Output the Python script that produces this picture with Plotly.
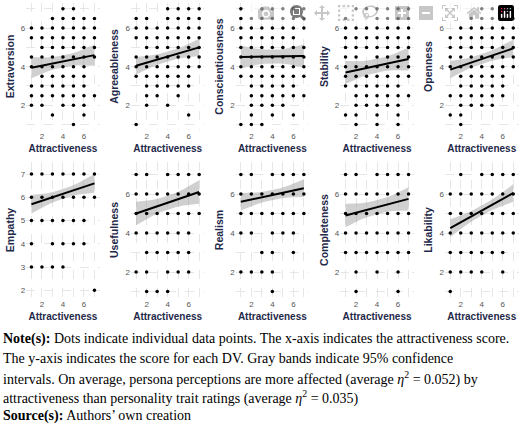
import plotly.graph_objects as go

names = ["Extraversion", "Agreeableness", "Conscientiousness", "Stability", "Openness",
         "Empathy", "Usefulness", "Realism", "Completeness", "Likability"]

# Observed points: y value -> list of attractiveness x values
extraversion = {7: [4, 5], 6.5: [3, 4, 5, 6, 7], 6: [1, 2, 3, 4, 5, 6, 7], 5.5: [1, 2, 3, 4, 5, 6, 7],
                5: [2, 3, 4, 5, 6, 7], 4.5: [1, 2, 3, 4, 5, 6, 7], 4: [1, 2, 3, 4, 5, 6],
                3.5: [2, 3, 4, 5, 6], 3: [1, 2, 3, 4, 5, 6], 2.5: [1, 2, 3, 4, 5, 6, 7],
                2: [1, 2, 4, 5, 6], 1.5: [3, 6], 1: [5]}
agreeableness = {7: [4, 5, 6, 7], 6.5: [1, 2, 4, 5, 6, 7], 6: [1, 2, 3, 4, 5, 6, 7], 5.5: [1, 2, 3, 4, 5, 6, 7],
                 5: [2, 3, 4, 5, 6, 7], 4.5: [1, 2, 3, 4, 5, 6, 7], 4: [1, 2, 3, 4, 5, 6, 7],
                 3.5: [1, 2, 3, 4, 5, 6], 3: [2, 3, 4, 5, 6], 2.5: [2, 3, 5], 2: [2, 4], 1.5: [6], 1: [1]}
conscientiousness = {7: [1, 3, 4, 5, 6, 7], 6.5: [1, 2, 3, 4, 5, 6, 7], 6: [1, 2, 3, 4, 5, 6, 7],
                     5.5: [1, 2, 3, 4, 5, 6], 5: [1, 2, 3, 4, 5, 6, 7], 4.5: [1, 2, 3, 4, 5, 6, 7],
                     4: [1, 2, 3, 4, 5, 6, 7], 3.5: [1, 2, 3, 4, 5, 6, 7], 3: [2, 3, 4, 5, 6],
                     2.5: [2, 3, 4, 5, 6, 7], 2: [2, 3, 4, 5], 1.5: [2, 4, 6], 1: [1, 2, 3]}
stability = {7: [2, 3, 4, 5, 6, 7], 6.5: [1, 4, 5, 6, 7], 6: [1, 2, 3, 4, 5, 6, 7], 5.5: [1, 2, 3, 4, 5, 6, 7],
             5: [1, 2, 3, 4, 5, 6, 7], 4.5: [1, 2, 4, 5, 6, 7], 4: [1, 2, 3, 4, 5, 6, 7],
             3.5: [1, 2, 3, 4, 5, 6, 7], 3: [1, 2, 3, 4, 5, 6], 2.5: [2, 3, 4, 5, 6, 7],
             2: [2, 3, 4, 5, 6], 1.5: [1, 2, 4, 6], 1: [2, 4, 6]}
openness = {7: [4, 5], 6.5: [3, 4, 5, 6, 7], 6: [2, 3, 4, 5, 6, 7], 5.5: [1, 2, 3, 4, 5, 6, 7],
            5: [1, 2, 3, 4, 5, 6, 7], 4.5: [1, 2, 3, 4, 5, 6, 7], 4: [1, 2, 3, 4, 5, 6, 7],
            3.5: [2, 3, 4, 5, 6], 3: [2, 3, 4, 5, 6], 2.5: [1, 2, 3, 4, 5, 6], 2: [2, 3, 4, 5],
            1.5: [1, 2], 1: [2]}
empathy = {7: [1, 2, 3, 4, 5, 6, 7], 6: [1, 2, 3, 4, 5, 6, 7], 5: [1, 2, 3, 4, 5, 6],
           4: [1, 3, 4, 5, 6], 3: [1, 2, 3, 4], 2: [7]}
usefulness = {7: [1, 2, 4, 5, 6, 7], 6: [1, 2, 3, 4, 5, 6, 7], 5: [1, 2, 3, 4, 5, 6, 7],
              4: [1, 2, 3, 4, 5, 6], 3: [2, 3, 4, 5, 6], 2: [1, 2, 4, 5, 6], 1: [2, 3, 4]}
realism = {7: [1, 2, 4, 5, 6, 7], 6: [1, 2, 3, 4, 5, 6, 7], 5: [1, 2, 3, 4, 5, 6, 7],
           4: [1, 2, 4, 5, 6], 3: [3, 4, 6], 2: [1, 2, 3, 4], 1: [4]}
completeness = {7: [1, 2, 4, 5, 6, 7], 6: [1, 2, 3, 4, 5, 6, 7], 5: [1, 2, 3, 4, 5, 6, 7],
                4: [1, 2, 3, 4, 5, 6, 7], 3: [1, 2, 3, 4, 5, 6, 7], 2: [2, 4, 6], 1: [2, 6]}
likability = {7: [2, 4, 5, 6, 7], 6: [1, 2, 3, 4, 5, 6, 7], 5: [1, 2, 3, 4, 5, 6, 7],
              4: [1, 2, 3, 4, 5, 6, 7], 3: [1, 2, 3, 4, 5, 6], 2: [1, 2, 3, 4, 6], 1: [1]}
points = [extraversion, agreeableness, conscientiousness, stability, openness,
          empathy, usefulness, realism, completeness, likability]

# Fitted line at x=1 and x=7
fit_start = [3.95, 4.05, 4.5, 3.7, 3.85, 5.7, 5.0, 5.6, 4.9, 4.25]
fit_end = [4.6, 5.0, 4.55, 4.4, 4.95, 6.6, 6.1, 6.3, 5.75, 6.05]
# CI half-widths at end and middle
ci_end = [0.55, 0.45, 0.6, 0.6, 0.45, 0.4, 0.6, 0.45, 0.6, 0.45]
ci_mid = [0.3, 0.25, 0.35, 0.35, 0.25, 0.2, 0.35, 0.25, 0.35, 0.25]

fit_x = [1, 1.75, 2.5, 3.25, 4, 4.75, 5.5, 6.25, 7]

W, H = 520, 424
fig = go.Figure()
navy = "#1f2a4a"
for i in range(10):
    row, col = divmod(i, 5)
    ax = "" if i == 0 else str(i + 1)
    x0 = 26.2 + 104.7 * col
    xd = [x0 / W, min((x0 + 73.5) / W, 1)]
    if row == 0:
        yd = [(H - 130) / H, (H - 3) / H]
        yr = [0.72, 7.3]
    else:
        yd = [(H - 298) / H, (H - 162) / H]
        yr = [1.67, 7.52] if i == 5 else [0.67, 7.64]
    a, b = fit_start[i], fit_end[i]
    ly = [a + (b - a) * (x - 1) / 6 for x in fit_x]
    hw = [ci_mid[i] + (ci_end[i] - ci_mid[i]) * ((x - 4) / 3) ** 2 for x in fit_x]
    up = [y + h for y, h in zip(ly, hw)]
    lo = [y - h for y, h in zip(ly, hw)]
    fig.add_trace(go.Scatter(x=fit_x + fit_x[::-1], y=up + lo[::-1], fill="toself",
                             fillcolor="rgba(150,150,150,0.45)", line=dict(width=0),
                             mode="lines", xaxis="x" + ax, yaxis="y" + ax, hoverinfo="skip"))
    px, py = [], []
    for yv, xs in points[i].items():
        for xv in xs:
            px.append(xv)
            py.append(yv)
    fig.add_trace(go.Scatter(x=px, y=py, mode="markers", marker=dict(size=3.5, color="black"),
                             xaxis="x" + ax, yaxis="y" + ax))
    fig.add_trace(go.Scatter(x=fit_x, y=ly, mode="lines", line=dict(color="black", width=2),
                             xaxis="x" + ax, yaxis="y" + ax))
    grid = dict(showgrid=True, gridcolor="#e6e6e6", griddash="dash", gridwidth=0.7,
                zeroline=False, showline=False, ticks="", tickfont=dict(size=8, color="#555"))
    fig.layout["xaxis" + ax] = dict(domain=xd, range=[0.5, 7.5], anchor="y" + ax,
                                    tickvals=[1, 2, 3, 4, 5, 6, 7], ticktext=["", "2", "", "4", "", "6", ""],
                                    title=dict(text="<b>Attractiveness</b>", font=dict(size=10, color=navy), standoff=4),
                                    **grid)
    if i == 5:
        tv, tt = [2, 3, 4, 5, 6, 7], ["2", "3", "4", "5", "6", "7"]
    else:
        tv, tt = [1, 2, 3, 4, 5, 6, 7], ["", "2", "", "4", "", "6", ""]
    fig.layout["yaxis" + ax] = dict(domain=yd, range=yr, anchor="x" + ax, tickvals=tv, ticktext=tt,
                                    title=dict(text="<b>" + names[i] + "</b>", font=dict(size=10.5, color=navy), standoff=4),
                                    **grid)

note_lines = [
    "<b>Note(s):</b> Dots indicate individual data points. The x-axis indicates the attractiveness score.",
    "The y-axis indicates the score for each DV. Gray bands indicate 95% confidence",
    "intervals. On average, persona perceptions are more affected (average <i>η</i><sup>2</sup> = 0.052) by",
    "attractiveness than personality trait ratings (average <i>η</i><sup>2</sup> = 0.035)",
    "<b>Source(s):</b> Authors’ own creation",
]
note_y = [339, 358, 378, 397, 416]
for t, yp in zip(note_lines, note_y):
    fig.add_annotation(text=t, x=1 / W, y=1 - yp / H, xref="paper", yref="paper",
                       xanchor="left", yanchor="middle", showarrow=False,
                       font=dict(family="Liberation Serif", size=14, color="black"))

fig.update_layout(width=W, height=H, margin=dict(l=0, r=0, t=0, b=0), showlegend=False,
                  plot_bgcolor="white", paper_bgcolor="white",
                  font=dict(family="Liberation Sans"))
fig.write_html("out.html",
               post_script="document.body.style.margin='0';document.body.style.overflow='hidden';")
